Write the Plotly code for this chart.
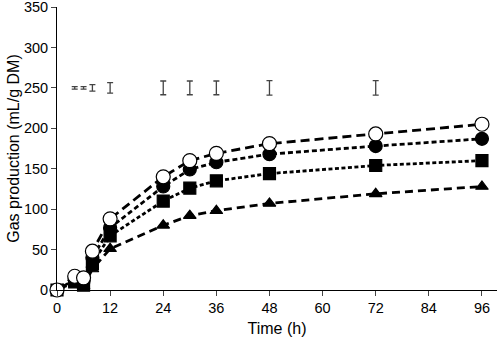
import plotly.graph_objects as go

time_h = [0, 4, 6, 8, 12, 24, 30, 36, 48, 72, 96]
open_circle = [0, 17, 15, 48, 88, 140, 160, 169, 181, 193, 205]
filled_circle = [0, 13, 11, 40, 77, 128, 149, 158, 168, 178, 187]
square = [0, 10, 6, 33, 67, 110, 126, 135, 144, 154, 160]
triangle = [0, 8, 5, 26, 51, 80, 92, 98, 107, 119, 128]

err_time = [4, 6, 8, 12, 24, 30, 36, 48, 72]
err_level = [250, 250, 250, 250, 250, 250, 250, 250, 250]
err_half = [1.5, 1.5, 4, 6.5, 8.5, 8.5, 8.5, 9, 9]

x_ticks = [0, 12, 24, 36, 48, 60, 72, 84, 96]
y_ticks = [0, 50, 100, 150, 200, 250, 300, 350]

fig = go.Figure()

series = [
    (triangle, "triangle-up", "black", "8px,5px", 11),
    (square, "square", "black", "4px,2.5px", 12),
    (filled_circle, "circle", "black", "5px,3px", 13),
    (open_circle, "circle", "white", "9px,5px", 14),
]
for vals, sym, fill, dash, size in series:
    fig.add_trace(go.Scatter(
        x=time_h, y=vals, mode="lines+markers",
        line=dict(color="black", width=2.8, dash=dash),
        marker=dict(symbol=sym, size=size, color=fill,
                    line=dict(color="black", width=1.2)),
        showlegend=False, cliponaxis=False,
    ))

fig.add_trace(go.Scatter(
    x=err_time, y=err_level, mode="markers",
    marker=dict(size=0.1, color="rgba(0,0,0,0)"),
    error_y=dict(type="data", array=err_half, visible=True,
                 color="#444", thickness=1.3, width=3),
    showlegend=False,
))

fig.update_layout(
    width=500, height=340,
    margin=dict(l=57, r=3, t=7, b=50),
    paper_bgcolor="white", plot_bgcolor="white",
    font=dict(family="Liberation Sans, Arial, sans-serif", size=14.5, color="black"),
)
fig.update_xaxes(
    range=[0, 99.4], tickvals=x_ticks, ticks="outside", ticklen=5,
    showline=True, linecolor="black", linewidth=1, showgrid=False,
    zeroline=False, automargin=False, ticklabeloverflow="allow",
    title=dict(text="Time (h)", font=dict(size=16), standoff=7),
)
fig.update_yaxes(
    range=[0, 350], tickvals=y_ticks, ticks="outside", ticklen=5,
    showline=True, linecolor="black", linewidth=1, showgrid=False,
    zeroline=False, automargin=False, ticklabeloverflow="allow",
    title=dict(text="Gas production (mL/g DM)", font=dict(size=16), standoff=0),
)

fig.write_html(
    "out.html",
    config={"displayModeBar": False},
    post_script="document.body.style.margin='0';document.body.style.overflow='hidden';",
)
